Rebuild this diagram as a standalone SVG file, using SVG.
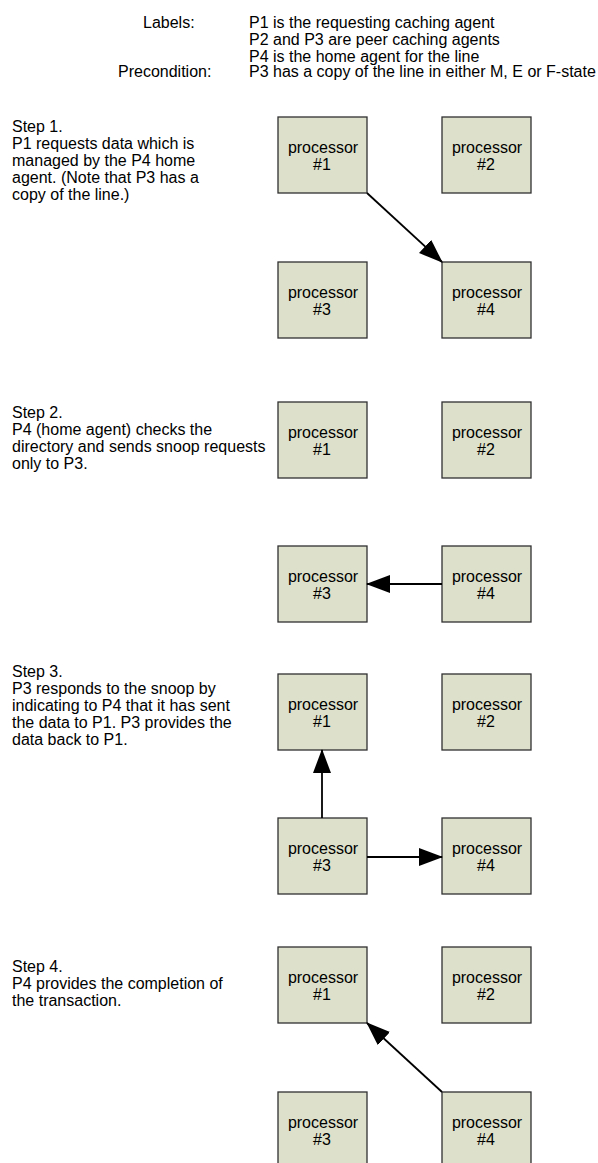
<svg xmlns="http://www.w3.org/2000/svg" width="598" height="1163" viewBox="0 0 598 1163">
  <style>
    text { font-family: "Liberation Sans", Arial, sans-serif; font-size: 16px; fill: #000; }
    .box { fill: #dde0ca; stroke: #303030; stroke-width: 1.3; }
    .lbl { text-anchor: middle; }
    .edge { stroke: #000; stroke-width: 1.8; fill: none; marker-end: url(#ah); }
  </style>
  <defs>
    <marker id="ah" markerUnits="userSpaceOnUse" markerWidth="24" markerHeight="18" refX="23" refY="9" orient="auto" viewBox="0 0 24 18">
      <path d="M0,0 L24,9 L0,18 z" fill="#000"/>
    </marker>
  </defs>
  <rect width="598" height="1163" fill="#fff"/>

  <!-- legend -->
  <g id="legend">
    <text x="143" y="28">Labels:</text>
    <text x="249" y="28">P1 is the requesting caching agent</text>
    <text x="249" y="45">P2 and P3 are peer caching agents</text>
    <text x="249" y="62">P4 is the home agent for the line</text>
    <text x="118" y="77">Precondition:</text>
    <text x="249" y="77">P3 has a copy of the line in either M, E or F-state</text>
  </g>

  <!-- step descriptions -->
  <g id="step1-text">
    <text x="12" y="132">Step 1.</text>
    <text x="12" y="149">P1 requests data which is</text>
    <text x="12" y="166">managed by the P4 home</text>
    <text x="12" y="183">agent. (Note that P3 has a</text>
    <text x="12" y="200">copy of the line.)</text>
  </g>
  <g id="step2-text">
    <text x="12" y="418">Step 2.</text>
    <text x="12" y="435">P4 (home agent) checks the</text>
    <text x="12" y="452">directory and sends snoop requests</text>
    <text x="12" y="469">only to P3.</text>
  </g>
  <g id="step3-text">
    <text x="12" y="677">Step 3.</text>
    <text x="12" y="694">P3 responds to the snoop by</text>
    <text x="12" y="711">indicating to P4 that it has sent</text>
    <text x="12" y="728">the data to P1. P3 provides the</text>
    <text x="12" y="745">data back to P1.</text>
  </g>
  <g id="step4-text">
    <text x="12" y="972">Step 4.</text>
    <text x="12" y="989">P4 provides the completion of</text>
    <text x="12" y="1006">the transaction.</text>
  </g>

  <!-- step 1 processors -->
  <g id="s1-p1"><rect class="box" x="278" y="117" width="89" height="76"/><text class="lbl" x="323" y="153">processor</text><text class="lbl" x="322" y="170">#1</text></g>
  <g id="s1-p2"><rect class="box" x="442" y="117" width="89" height="76"/><text class="lbl" x="487" y="153">processor</text><text class="lbl" x="486" y="170">#2</text></g>
  <g id="s1-p3"><rect class="box" x="278" y="262" width="89" height="76"/><text class="lbl" x="323" y="298">processor</text><text class="lbl" x="322" y="315">#3</text></g>
  <g id="s1-p4"><rect class="box" x="442" y="262" width="89" height="76"/><text class="lbl" x="487" y="298">processor</text><text class="lbl" x="486" y="315">#4</text></g>

  <!-- step 2 processors -->
  <g id="s2-p1"><rect class="box" x="278" y="402" width="89" height="76"/><text class="lbl" x="323" y="438">processor</text><text class="lbl" x="322" y="455">#1</text></g>
  <g id="s2-p2"><rect class="box" x="442" y="402" width="89" height="76"/><text class="lbl" x="487" y="438">processor</text><text class="lbl" x="486" y="455">#2</text></g>
  <g id="s2-p3"><rect class="box" x="278" y="546" width="89" height="76"/><text class="lbl" x="323" y="582">processor</text><text class="lbl" x="322" y="599">#3</text></g>
  <g id="s2-p4"><rect class="box" x="442" y="546" width="89" height="76"/><text class="lbl" x="487" y="582">processor</text><text class="lbl" x="486" y="599">#4</text></g>

  <!-- step 3 processors -->
  <g id="s3-p1"><rect class="box" x="278" y="674" width="89" height="76"/><text class="lbl" x="323" y="710">processor</text><text class="lbl" x="322" y="727">#1</text></g>
  <g id="s3-p2"><rect class="box" x="442" y="674" width="89" height="76"/><text class="lbl" x="487" y="710">processor</text><text class="lbl" x="486" y="727">#2</text></g>
  <g id="s3-p3"><rect class="box" x="278" y="818" width="89" height="76"/><text class="lbl" x="323" y="854">processor</text><text class="lbl" x="322" y="871">#3</text></g>
  <g id="s3-p4"><rect class="box" x="442" y="818" width="89" height="76"/><text class="lbl" x="487" y="854">processor</text><text class="lbl" x="486" y="871">#4</text></g>

  <!-- step 4 processors -->
  <g id="s4-p1"><rect class="box" x="278" y="947" width="89" height="76"/><text class="lbl" x="323" y="983">processor</text><text class="lbl" x="322" y="1000">#1</text></g>
  <g id="s4-p2"><rect class="box" x="442" y="947" width="89" height="76"/><text class="lbl" x="487" y="983">processor</text><text class="lbl" x="486" y="1000">#2</text></g>
  <g id="s4-p3"><rect class="box" x="278" y="1092" width="89" height="76"/><text class="lbl" x="323" y="1128">processor</text><text class="lbl" x="322" y="1145">#3</text></g>
  <g id="s4-p4"><rect class="box" x="442" y="1092" width="89" height="76"/><text class="lbl" x="487" y="1128">processor</text><text class="lbl" x="486" y="1145">#4</text></g>

  <!-- message arrows -->
  <g id="connectors">
    <line class="edge" x1="367" y1="193" x2="442" y2="262"/>
    <line class="edge" x1="442" y1="584" x2="367" y2="584"/>
    <line class="edge" x1="322" y1="818" x2="322" y2="750"/>
    <line class="edge" x1="367" y1="857" x2="442" y2="857"/>
    <line class="edge" x1="442" y1="1092" x2="367" y2="1023"/>
  </g>
</svg>
